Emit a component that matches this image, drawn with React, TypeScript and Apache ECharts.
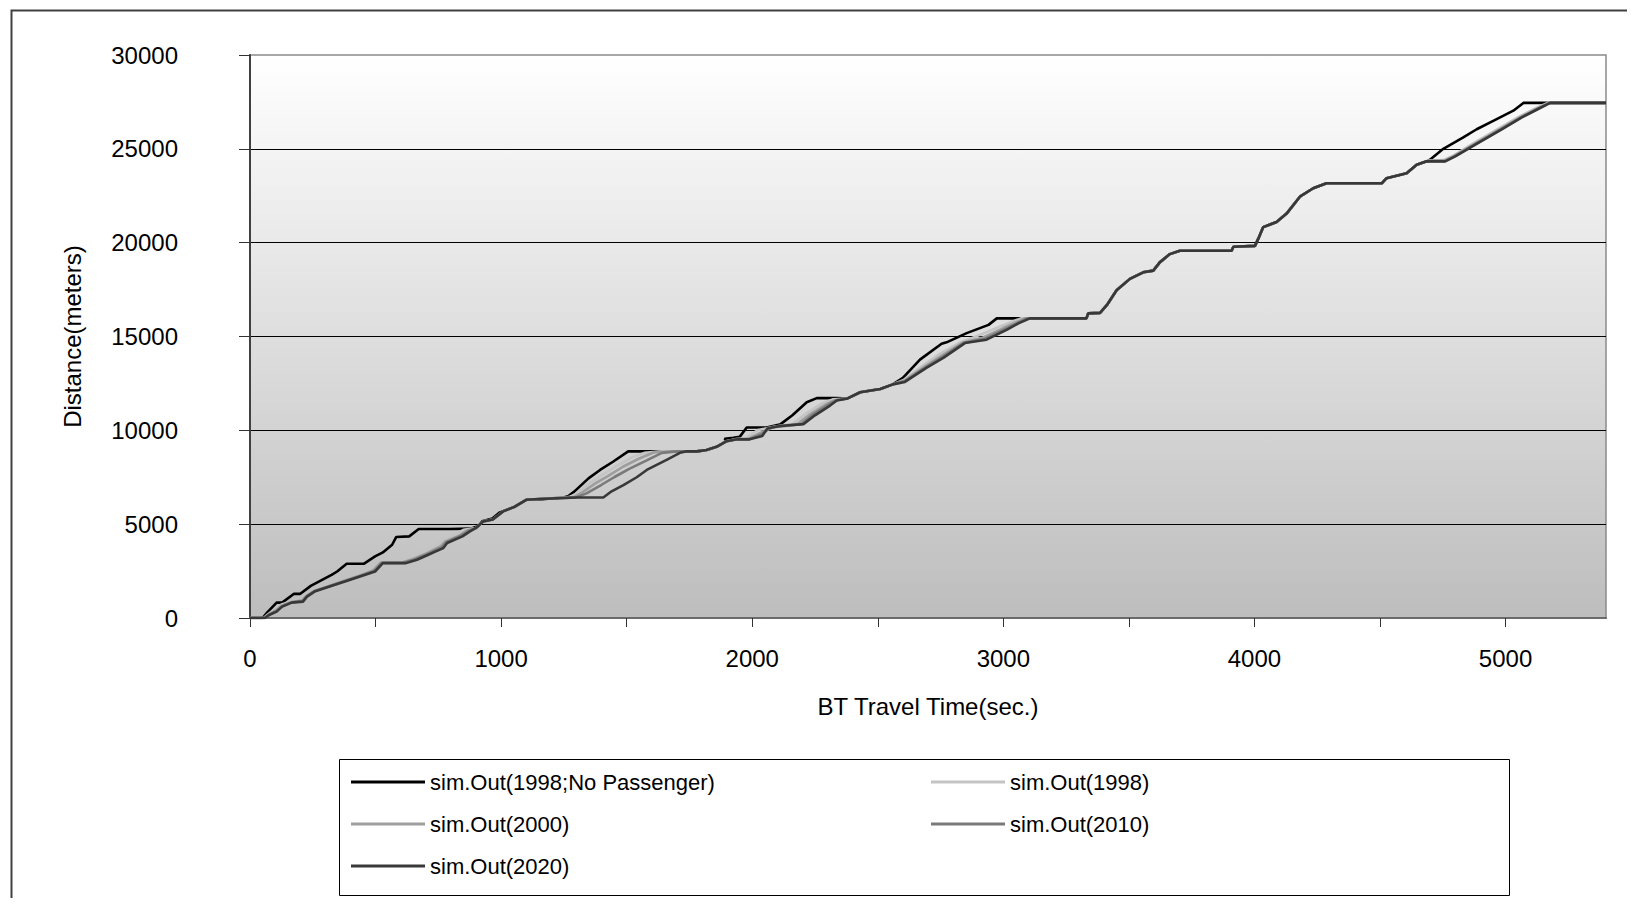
import React, { useEffect, useRef } from "react";
import * as echarts from "echarts";

const seriesNames = [
  "sim.Out(1998;No Passenger)",
  "sim.Out(1998)",
  "sim.Out(2000)",
  "sim.Out(2010)",
  "sim.Out(2020)",
];
const seriesColors = ["#000000", "#c4c4c4", "#9e9e9e", "#7a7a7a", "#383838"];

const xTickValues = [0, 500, 1000, 1500, 2000, 2500, 3000, 3500, 4000, 4500, 5000];
const xLabelValues = [0, 1000, 2000, 3000, 4000, 5000];
const yTickValues = [0, 5000, 10000, 15000, 20000, 25000, 30000];

// shared stretches where every run follows the same path
const sharedEarly = [[929, 5150], [967, 5250], [1008, 5680], [1053, 5920], [1100, 6300], [1150, 6340]];
const sharedMid = [[1780, 8880], [1818, 8950], [1858, 9120], [1898, 9420]];
const sharedLate = [[2380, 11700], [2430, 12030], [2510, 12200], [2560, 12450]];
const sharedLong = [
  [3331, 15966], [3338, 16230], [3385, 16260], [3412, 16670], [3451, 17460], [3504, 18070],
  [3557, 18420], [3597, 18510], [3623, 18950], [3663, 19390], [3703, 19570], [3909, 19570],
  [3916, 19780], [4002, 19830], [4015, 20200], [4035, 20830], [4088, 21100], [4128, 21550],
  [4181, 22450], [4234, 22900], [4287, 23165], [4507, 23165], [4526, 23435], [4606, 23705],
  [4646, 24154], [4686, 24334],
];
const sharedEnd = [[5400, 27447]];

// sim.Out(1998;No Passenger)
const noPassA = [
  [0, 0], [50, 0], [68, 285], [106, 820], [128, 820], [174, 1283], [199, 1283], [242, 1711],
  [287, 2032], [325, 2299], [347, 2478], [385, 2888], [453, 2888], [498, 3280], [529, 3494],
  [566, 3904], [582, 4314], [634, 4349], [672, 4741], [793, 4741], [880, 4760], [910, 4900],
  [925, 5150], [965, 5300], [995, 5630], [1049, 5900], [1100, 6300], [1150, 6320], [1250, 6420],
];
const noPassB = [[1268, 6500], [1290, 6720], [1348, 7440], [1394, 7890], [1447, 8340], [1506, 8880], [1606, 8880]];
const noPassC = [[1890, 9550], [1925, 9600], [1950, 9650], [1978, 10150], [2057, 10150], [2113, 10330], [2160, 10800], [2217, 11500], [2257, 11715], [2337, 11715]];
const noPassD = [[2600, 12800], [2668, 13770], [2754, 14610], [2774, 14690], [2854, 15180], [2941, 15620], [2974, 15966], [3040, 15966]];
const noPassE = [[4699, 24424], [4752, 25000], [4830, 25600], [4885, 26043], [4951, 26493], [5031, 27033], [5071, 27447]];

// sim.Out(1998)
const y1998A = [
  [0, 0], [55, 0], [72, 200], [104, 520], [125, 720], [165, 880], [205, 1000], [222, 1220],
  [250, 1460], [310, 1730], [370, 2000], [430, 2280], [482, 2580], [512, 2960], [590, 2990],
  [640, 3210], [688, 3480], [718, 3700], [748, 3900], [770, 4150], [815, 4450], [850, 4700], [900, 4800],
];
const y1998B = [[1270, 6440], [1300, 6620], [1350, 7160], [1400, 7600], [1455, 8070], [1520, 8550], [1570, 8800], [1640, 8880]];
const y1998C = [[1935, 9540], [1975, 9560], [2020, 10000], [2080, 10180], [2160, 10330], [2215, 10900], [2280, 11450], [2320, 11650]];
const y1998D = [[2605, 12700], [2685, 13500], [2750, 14100], [2830, 14700], [2910, 15100], [2990, 15550], [3070, 15966]];
const y1998E = [[4695, 24380], [4752, 24400], [4792, 24640], [4880, 25360], [4972, 26080], [5052, 26700], [5118, 27150], [5168, 27447]];

// sim.Out(2000)
const y2000A = [
  [0, 0], [58, 0], [74, 180], [105, 430], [126, 660], [165, 850], [208, 950], [224, 1180],
  [254, 1440], [314, 1710], [374, 1980], [434, 2250], [490, 2530], [520, 2950], [605, 2960],
  [652, 3160], [700, 3420], [730, 3630], [760, 3830], [778, 4080], [835, 4400], [864, 4660], [900, 4800],
];
const y2000B = [[1290, 6440], [1320, 6660], [1375, 7170], [1425, 7560], [1485, 8060], [1550, 8500], [1610, 8830], [1680, 8880]];
const y2000C = [[1937, 9530], [1985, 9540], [2030, 9850], [2090, 10200], [2180, 10330], [2230, 10850], [2295, 11400], [2330, 11620]];
const y2000D = [[2606, 12650], [2690, 13420], [2755, 13980], [2838, 14680], [2920, 14950], [3000, 15450], [3085, 15966]];
const y2000E = [[4698, 24360], [4756, 24360], [4796, 24620], [4886, 25330], [4980, 26060], [5060, 26690], [5125, 27140], [5172, 27447]];

// sim.Out(2010)
const y2010A = [
  [0, 0], [59, 0], [75, 170], [106, 380], [127, 630], [166, 835], [210, 910], [226, 1160],
  [256, 1420], [316, 1690], [376, 1960], [436, 2230], [494, 2500], [525, 2935], [612, 2940],
  [658, 3130], [705, 3395], [735, 3590], [765, 3780], [782, 4040], [840, 4380], [870, 4640], [900, 4800],
];
const y2010B = [[1300, 6430], [1340, 6640], [1400, 7100], [1450, 7500], [1510, 7950], [1580, 8400], [1640, 8800], [1700, 8880]];
const y2010C = [[1938, 9525], [1988, 9530], [2035, 9780], [2075, 10150], [2195, 10330], [2240, 10820], [2302, 11360], [2334, 11600]];
const y2010D = [[2607, 12610], [2693, 13380], [2758, 13920], [2843, 14660], [2928, 14880], [3008, 15400], [3095, 15966]];
const y2010E = [[4699, 24345], [4758, 24345], [4798, 24610], [4888, 25315], [4982, 26050], [5062, 26680], [5128, 27130], [5175, 27447]];

// sim.Out(2020)
const y2020A = [
  [0, 0], [60, 0], [76, 160], [106, 340], [128, 606], [166, 820], [211, 873], [227, 1141],
  [257, 1408], [317, 1676], [378, 1943], [438, 2210], [498, 2478], [529, 2923], [619, 2923],
  [665, 3102], [710, 3369], [740, 3547], [770, 3725], [785, 3993], [846, 4349], [876, 4617], [900, 4800],
];
const y2020B = [[1300, 6420], [1407, 6420], [1440, 6750], [1487, 7080], [1540, 7500], [1580, 7890], [1659, 8430], [1712, 8800], [1740, 8880]];
const y2020C = [[1940, 9520], [1990, 9520], [2040, 9700], [2060, 10100], [2110, 10230], [2204, 10330], [2250, 10800], [2310, 11320], [2337, 11590]];
const y2020D = [[2608, 12580], [2695, 13340], [2761, 13860], [2847, 14650], [2933, 14830], [3013, 15350], [3060, 15700], [3106, 15966]];
const y2020E = [[4700, 24334], [4760, 24330], [4800, 24600], [4890, 25300], [4985, 26043], [5065, 26673], [5130, 27123], [5178, 27447]];

const seriesData = [
  [...noPassA, ...noPassB, ...sharedMid, ...noPassC, ...sharedLate, ...noPassD, ...sharedLong, ...noPassE, ...sharedEnd],
  [...y1998A, ...sharedEarly, ...y1998B, ...sharedMid, ...y1998C, ...sharedLate, ...y1998D, ...sharedLong, ...y1998E, ...sharedEnd],
  [...y2000A, ...sharedEarly, ...y2000B, ...sharedMid, ...y2000C, ...sharedLate, ...y2000D, ...sharedLong, ...y2000E, ...sharedEnd],
  [...y2010A, ...sharedEarly, ...y2010B, ...sharedMid, ...y2010C, ...sharedLate, ...y2010D, ...sharedLong, ...y2010E, ...sharedEnd],
  [...y2020A, ...sharedEarly, ...y2020B, ...sharedMid, ...y2020C, ...sharedLate, ...y2020D, ...sharedLong, ...y2020E, ...sharedEnd],
];

const FONT = "'Liberation Sans', Arial, sans-serif";

export default function App() {
  const ref = useRef<HTMLDivElement>(null);
  useEffect(() => {
    if (!ref.current) return;
    const chart = echarts.init(ref.current, undefined, { renderer: "svg" });
    const legendText = { fontSize: 22, color: "#000", fontFamily: FONT };
    const legendBase = {
      orient: "vertical",
      top: 763,
      itemGap: 20,
      itemWidth: 74,
      itemHeight: 3,
      icon: "rect",
      padding: 0,
      selectedMode: false,
      textStyle: legendText,
    };
    chart.setOption({
      animation: false,
      backgroundColor: "#ffffff",
      textStyle: { fontFamily: FONT },
      grid: {
        left: 242,
        top: 47,
        width: 1356,
        height: 563,
        show: true,
        borderColor: "#8a8a8a",
        borderWidth: 1.5,
        backgroundColor: {
          type: "linear",
          x: 0,
          y: 0,
          x2: 0,
          y2: 1,
          colorStops: [
            { offset: 0, color: "#ffffff" },
            { offset: 1, color: "#bdbdbd" },
          ],
        },
      },
      xAxis: {
        type: "value",
        min: 0,
        max: 5400,
        interval: 500,
        name: "BT Travel Time(sec.)",
        nameLocation: "middle",
        nameGap: 76,
        nameTextStyle: { fontSize: 24, color: "#000", fontFamily: FONT },
        axisLine: { show: true, lineStyle: { color: "#6a6a6a", width: 2 } },
        axisTick: { show: true, length: 9, customValues: xTickValues, lineStyle: { color: "#333", width: 1 } },
        axisLabel: {
          customValues: xLabelValues,
          formatter: (v: number) => (v % 1000 === 0 ? String(v) : ""),
          fontSize: 24,
          color: "#000",
          margin: 28,
          fontFamily: FONT,
        },
        splitLine: { show: false },
      },
      yAxis: {
        type: "value",
        min: 0,
        max: 30000,
        interval: 5000,
        name: "Distance(meters)",
        nameLocation: "middle",
        nameGap: 166,
        nameTextStyle: { fontSize: 24, color: "#000", fontFamily: FONT },
        axisLine: { show: true, lineStyle: { color: "#404040", width: 2 } },
        axisTick: { show: true, length: 11, customValues: yTickValues, lineStyle: { color: "#333", width: 1 } },
        axisLabel: {
          formatter: (v: number) => String(v),
          fontSize: 24,
          color: "#000",
          margin: 72,
          fontFamily: FONT,
        },
        splitLine: { show: true, showMaxLine: false, showMinLine: false, lineStyle: { color: "#000", width: 1 } },
      },
      legend: [
        { ...legendBase, data: [seriesNames[0], seriesNames[2], seriesNames[4]], left: 343 },
        { ...legendBase, data: [seriesNames[1], seriesNames[3]], left: 923 },
      ],
      graphic: [
        {
          type: "rect",
          left: 1,
          top: 0,
          shape: { width: 1700, height: 1000 },
          style: { fill: "none", stroke: "#404040", lineWidth: 2 },
          silent: true,
          z: 1,
        },
        {
          type: "rect",
          left: 331,
          top: 751,
          shape: { width: 1170, height: 136 },
          style: { fill: "#ffffff", stroke: "#000", lineWidth: 1 },
          silent: true,
          z: 1,
        },
      ],
      series: seriesNames.map((name, i) => ({
        name,
        type: "line",
        data: seriesData[i],
        symbol: "none",
        showSymbol: false,
        color: seriesColors[i],
        lineStyle: { color: seriesColors[i], width: 2.6 },
        z: 2 + i,
      })),
    });
    return () => chart.dispose();
  }, []);
  return <div ref={ref} style={{ width: 1619, height: 890 }} />;
}
